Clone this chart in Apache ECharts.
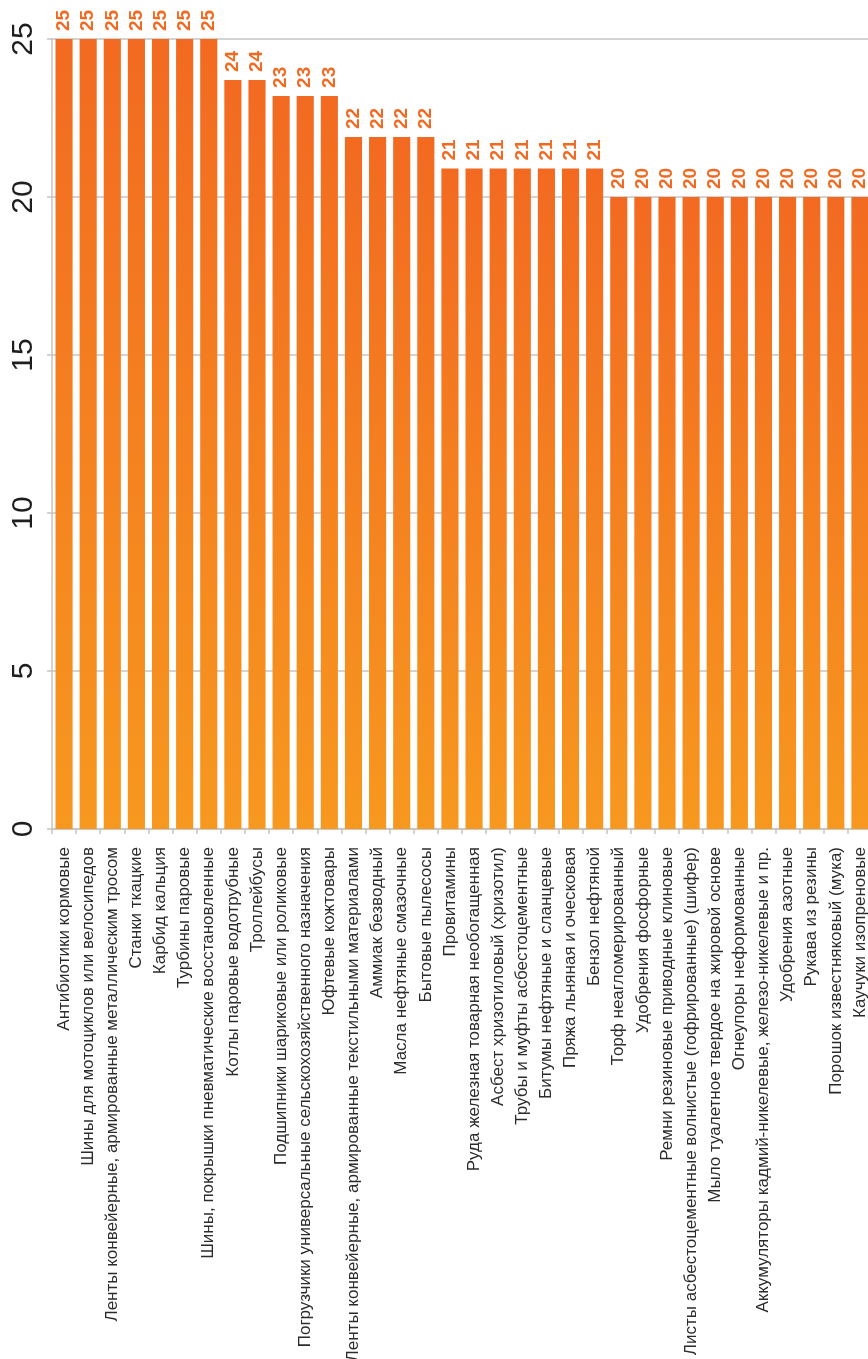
<!DOCTYPE html>
<html>
<head>
<meta charset="utf-8">
<script src="https://cdn.jsdelivr.net/npm/echarts@6/dist/echarts.min.js"></script>
<style>
  html, body { margin: 0; padding: 0; background: #ffffff; }
  #chart { width: 868px; height: 1359px; }
</style>
</head>
<body>
<div id="chart"></div>
<script>
// Product categories, left to right
const categories = [
  'Антибиотики кормовые',
  'Шины для мотоциклов или велосипедов',
  'Ленты конвейерные, армированные металлическим тросом',
  'Станки ткацкие',
  'Карбид кальция',
  'Турбины паровые',
  'Шины, покрышки пневматические восстановленные',
  'Котлы паровые водотрубные',
  'Троллейбусы',
  'Подшипники шариковые или роликовые',
  'Погрузчики универсальные сельскохозяйственного назначения',
  'Юфтевые кожтовары',
  'Ленты конвейерные, армированные текстильными материалами',
  'Аммиак безводный',
  'Масла нефтяные смазочные',
  'Бытовые пылесосы',
  'Провитамины',
  'Руда железная товарная необогащенная',
  'Асбест хризотиловый (хризотил)',
  'Трубы и муфты асбестоцементные',
  'Битумы нефтяные и сланцевые',
  'Пряжа льняная и оческовая',
  'Бензол нефтяной',
  'Торф неагломерированный',
  'Удобрения фосфорные',
  'Ремни резиновые приводные клиновые',
  'Листы асбестоцементные волнистые (гофрированные) (шифер)',
  'Мыло туалетное твердое на жировой основе',
  'Огнеупоры неформованные',
  'Аккумуляторы кадмий-никелевые, железо-никелевые и пр.',
  'Удобрения азотные',
  'Рукава из резины',
  'Порошок известняковый (мука)',
  'Каучуки изопреновые'
];

// Values per category (labels show them rounded to whole numbers)
const values = [
  25, 25, 25, 25, 25, 25, 25,
  23.7, 23.7,
  23.2, 23.2, 23.2,
  21.9, 21.9, 21.9, 21.9,
  20.9, 20.9, 20.9, 20.9, 20.9, 20.9, 20.9,
  20, 20, 20, 20, 20, 20, 20, 20, 20, 20, 20
];

// Value axis ticks
const valueTicks = [0, 5, 10, 15, 20, 25];

const chart = echarts.init(document.getElementById('chart'), null, { renderer: 'canvas' });

const narrow = '"Liberation Sans Narrow", "Arial Narrow", "Liberation Sans", Arial, sans-serif';
const regular = '"Liberation Sans", Arial, sans-serif';

chart.setOption({
  animation: false,
  backgroundColor: '#ffffff',
  grid: {
    left: 52, right: -4, top: 39, bottom: 530,
    containLabel: false,
    outerBoundsMode: 'none'
  },
  xAxis: {
    type: 'category',
    data: categories,
    axisLine: { show: true, lineStyle: { color: '#c4c4c4', width: 1.5 } },
    axisTick: { show: true, length: 5, lineStyle: { color: '#c4c4c4', width: 1.5 } },
    axisLabel: {
      interval: 0,
      rotate: 90,
      margin: 18,
      color: '#2b2b2b',
      fontFamily: regular,
      fontSize: 17
    }
  },
  yAxis: {
    type: 'value',
    min: valueTicks[0],
    max: valueTicks[valueTicks.length - 1],
    interval: 5,
    axisLine: { show: true, lineStyle: { color: '#c4c4c4', width: 1.5 } },
    axisTick: { show: true, length: 5, lineStyle: { color: '#c4c4c4', width: 1.5 } },
    splitLine: { show: true, lineStyle: { color: '#c4c4c4', width: 1.5 } },
    axisLabel: {
      rotate: 90,
      margin: 13,
      color: '#1e1e1e',
      fontFamily: narrow,
      fontSize: 30
    }
  },
  series: [{
    type: 'bar',
    data: values,
    barWidth: '71%',
    itemStyle: {
      color: new echarts.graphic.LinearGradient(0, 0, 0, 1, [
        { offset: 0, color: '#f26a21' },
        { offset: 1, color: '#f7981f' }
      ])
    },
    label: {
      show: true,
      position: 'top',
      distance: 8,
      rotate: 90,
      align: 'left',
      verticalAlign: 'middle',
      color: '#f26a21',
      fontFamily: narrow,
      fontWeight: 'bold',
      fontSize: 19,
      textBorderColor: '#ffffff',
      textBorderWidth: 2,
      formatter: p => String(Math.round(p.value))
    }
  }]
});
</script>
</body>
</html>
